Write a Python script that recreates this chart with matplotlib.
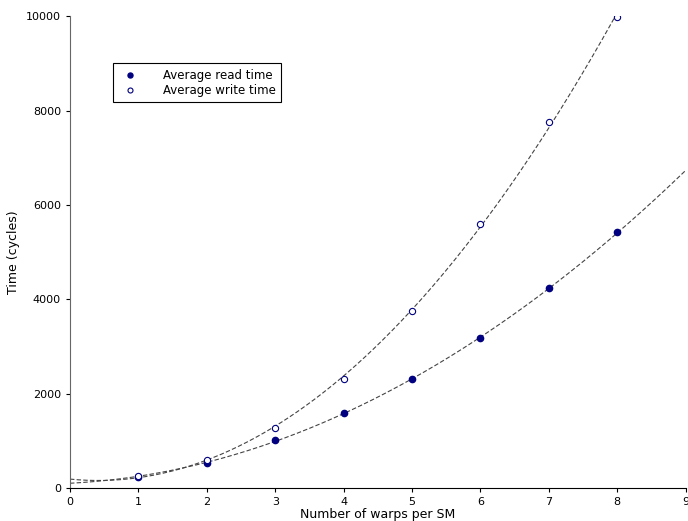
import matplotlib.pyplot as plt
import numpy as np

# measured points
warps = [1, 2, 3, 4, 5, 6, 7, 8]
read_time = [240, 540, 1010, 1600, 2300, 3170, 4230, 5420]
write_time = [250, 600, 1270, 2320, 3760, 5600, 7750, 9980]

fig = plt.figure(figsize=(6.88, 5.21), dpi=100)
ax = fig.add_axes([0.1017, 0.0633, 0.895, 0.9057])

# quadratic fits
xs = np.linspace(0, 9.2, 300)
for y in (read_time, write_time):
    c = np.polyfit(warps, y, 2)
    ax.plot(xs, np.polyval(c, xs), '--', color='#444444', linewidth=0.8, dashes=(4, 2))

navy = '#000080'
ax.plot(warps, read_time, 'o', color=navy, markersize=4.5, label='Average read time')
ax.plot(warps, write_time, 'o', markerfacecolor='white', markeredgecolor=navy,
        markersize=4.5, markeredgewidth=0.8, label='Average write time')

ax.set_xlim(0, 9)
ax.set_ylim(0, 10000)
ax.set_xticks(range(10))
ax.set_yticks([0, 2000, 4000, 6000, 8000, 10000])
ax.spines['top'].set_visible(False)
ax.spines['right'].set_visible(False)
ax.spines['left'].set_color('#666666')
ax.tick_params(labelsize=8, direction='out', length=3)
ax.set_xlabel('Number of warps per SM', fontsize=9, labelpad=1)
ax.set_ylabel('Time (cycles)', fontsize=9)

leg = ax.legend(loc='upper left', bbox_to_anchor=(0.07, 0.9), fontsize=8.5,
                fancybox=False, framealpha=1, edgecolor='black', markerscale=0.8,
                handletextpad=1.8, borderpad=0.45, labelspacing=0.2,
                borderaxespad=0)
leg.get_frame().set_linewidth(0.8)

fig.savefig('out.png', dpi=100)
